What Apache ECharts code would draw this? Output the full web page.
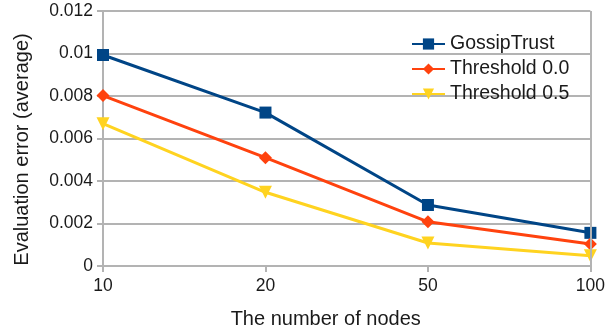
<!DOCTYPE html>
<html><head><meta charset="utf-8">
<script src="https://cdn.jsdelivr.net/npm/echarts@6/dist/echarts.min.js"></script>
<style>html,body{margin:0;padding:0;background:#fff}#c{width:608px;height:334px}</style>
</head><body><div id="c"></div>
<script>
const categories = ['10', '20', '50', '100'];
const gossipTrust = [0.00993, 0.00722, 0.00287, 0.00156];
const threshold00 = [0.00802, 0.00510, 0.00208, 0.00104];
const threshold05 = [0.00670, 0.00347, 0.00108, 0.00048];
const yTicks = [0, 0.002, 0.004, 0.006, 0.008, 0.01, 0.012];

const font = 'Liberation Sans, Arial, sans-serif';
const grey = '#b3b3b3';
const chart = echarts.init(document.getElementById('c'), null, {renderer: 'canvas'});
chart.setOption({
  animation: false,
  textStyle: {fontFamily: font},
  grid: {left: 103, right: 12, top: 11, bottom: 67},
  legend: {
    orient: 'vertical', left: 406, top: 29, itemGap: 5, itemWidth: 33, itemHeight: 14,
    textStyle: {fontFamily: font, fontSize: 19.5, lineHeight: 20, color: '#1a1a1a'},
    data: ['GossipTrust', 'Threshold 0.0', 'Threshold 0.5']
  },
  xAxis: {
    type: 'category', data: categories, boundaryGap: false,
    name: 'The number of nodes', nameLocation: 'middle', nameGap: 43,
    nameTextStyle: {fontFamily: font, fontSize: 20, color: '#1a1a1a', padding: [0, 42, 0, 0]},
    axisLine: {lineStyle: {color: grey, width: 2}},
    axisTick: {show: true, length: 6, lineStyle: {color: grey, width: 2}},
    axisLabel: {fontFamily: font, fontSize: 17.5, color: '#1a1a1a', margin: 11},
    splitLine: {show: false}
  },
  yAxis: {
    type: 'value', min: 0, max: 0.012, interval: 0.002,
    name: 'Evaluation error (average)', nameLocation: 'middle', nameGap: 71,
    nameTextStyle: {fontFamily: font, fontSize: 20, color: '#1a1a1a', padding: [0, 22, 0, 0]},
    axisLine: {show: true, lineStyle: {color: grey, width: 2}},
    axisTick: {show: true, length: 6, lineStyle: {color: grey, width: 2}},
    axisLabel: {fontFamily: font, fontSize: 17.5, color: '#1a1a1a', margin: 10,
      formatter: v => { const t = yTicks.find(x => Math.abs(x - v) < 1e-9); return String(t !== undefined ? t : v); }},
    splitLine: {show: true, lineStyle: {color: grey, width: 2}}
  },
  series: [
    {name: 'GossipTrust', type: 'line', data: gossipTrust, symbol: 'rect', symbolSize: 12,
      itemStyle: {color: '#004586'}, lineStyle: {color: '#004586', width: 3}},
    {name: 'Threshold 0.0', type: 'line', data: threshold00, symbol: 'diamond', symbolSize: 13,
      itemStyle: {color: '#ff420e'}, lineStyle: {color: '#ff420e', width: 3}},
    {name: 'Threshold 0.5', type: 'line', data: threshold05, symbol: 'triangle', symbolRotate: 180, symbolSize: 13,
      itemStyle: {color: '#ffd320'}, lineStyle: {color: '#ffd320', width: 3},
      markLine: {silent: true, symbol: 'none', label: {show: false},
        lineStyle: {color: grey, width: 2, type: 'solid'}, data: [{xAxis: '100'}]}}
  ]
});
</script></body></html>
